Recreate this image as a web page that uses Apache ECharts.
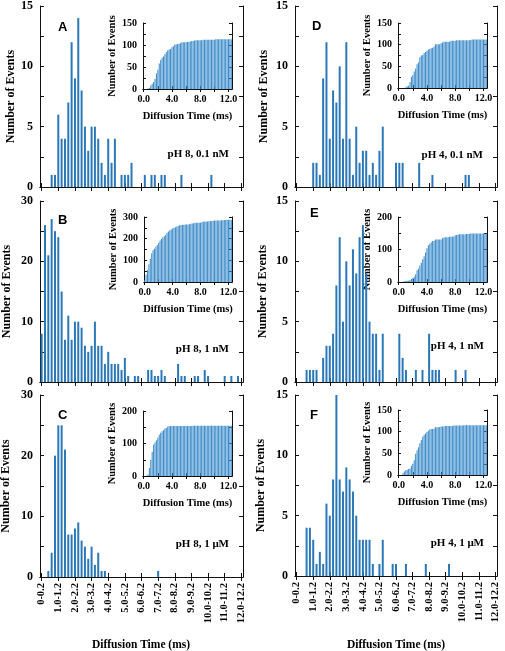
<!DOCTYPE html>
<html><head><meta charset="utf-8">
<script src="https://cdn.jsdelivr.net/npm/echarts@6/dist/echarts.min.js"></script>
<style>html,body{margin:0;padding:0;background:#fff}#c{width:505px;height:651px}</style>
</head><body><div id="c"></div>
<script>
// ---- data ----
const bins = [
 "0-0.2","0.2-0.4","0.4-0.6","0.6-0.8","0.8-1.0",
 "1.0-1.2","1.2-1.4","1.4-1.6","1.6-1.8","1.8-2.0",
 "2.0-2.2","2.2-2.4","2.4-2.6","2.6-2.8","2.8-3.0",
 "3.0-3.2","3.2-3.4","3.4-3.6","3.6-3.8","3.8-4.0",
 "4.0-4.2","4.2-4.4","4.4-4.6","4.6-4.8","4.8-5.0",
 "5.0-5.2","5.2-5.4","5.4-5.6","5.6-5.8","5.8-6.0",
 "6.0-6.2","6.2-6.4","6.4-6.6","6.6-6.8","6.8-7.0",
 "7.0-7.2","7.2-7.4","7.4-7.6","7.6-7.8","7.8-8.0",
 "8.0-8.2","8.2-8.4","8.4-8.6","8.6-8.8","8.8-9.0",
 "9.0-9.2","9.2-9.4","9.4-9.6","9.6-9.8","9.8-10.0",
 "10.0-10.2","10.2-10.4","10.4-10.6","10.6-10.8","10.8-11.0",
 "11.0-11.2","11.2-11.4","11.4-11.6","11.6-11.8","11.8-12.0",
 "12.0-12.2"];
const insetExtraBins = ["12.2-12.4","12.4-12.6"];
const insetTicks = ["0.0","4.0","8.0","12.0"];

const countsA = [0,0,0,1,1,6,4,4,7,12, 9,14,8,5,3,5,5,4,2,1, 4,2,4,0,1,1,1,2,0,0,
                 0,1,0,1,1,0,1,1,0,0, 0,0,1,0,0,0,0,0,0,0, 0,1,0,0,0,0,0,0,0,0, 0];
const countsB = [8,26,21,27,25,24,15,7,11,7, 10,10,9,6,5,6,10,6,6,3, 5,3,3,3,2,4,1,0,1,1,
                 0,0,2,2,1,1,2,1,0,0, 0,3,1,1,0,0,1,1,0,2, 1,0,0,0,0,1,0,1,0,1, 0];
const countsC = [0,0,1,4,20,25,25,21,7,7, 8,9,6,5,3,5,2,4,1,1, 0,0,0,0,0,0,0,0,0,0,
                 0,0,0,0,0,1,0,0,0,0, 0,0,0,0,0,0,0,0,0,0, 0,0,0,0,0,0,0,0,0,0, 0];
const countsD = [0,0,0,0,0,2,2,1,9,12, 4,8,7,10,4,12,4,1,5,2, 3,3,1,2,1,3,5,0,0,0,
                 2,2,2,0,0,0,0,2,0,0, 0,1,0,0,0,0,0,0,0,0, 0,1,1,0,0,0,0,0,0,0, 0];
const countsE = [0,0,0,1,1,1,1,0,2,3, 3,4,8,12,5,10,8,11,9,12, 13,9,5,4,4,1,4,0,0,0,
                 0,4,2,1,0,0,1,0,1,0, 4,1,1,1,0,0,0,0,1,0, 0,1,0,0,0,0,0,0,0,0, 0];
const countsF = [0,0,0,4,4,3,1,2,1,6, 5,8,15,8,7,9,8,7,5,3, 3,3,3,1,0,1,3,0,0,1,
                 1,0,0,1,0,0,0,0,0,1, 0,0,0,0,0,0,1,0,0,0, 0,0,0,0,0,0,0,0,0,0, 0];

const letters = ["A","B","C","D","E","F"];
const conditions = ["pH 8, 0.1 nM","pH 8, 1 nM","pH 8, 1 \u03bcM","pH 4, 0.1 nM","pH 4, 1 nM","pH 4, 1 \u03bcM"];
const yTitle = "Number of Events";
const xTitle = "Diffusion Time (ms)";

// ---- layout ----
const SERIF = '"Liberation Serif","Times New Roman",serif';
const SANS = '"Liberation Sans",Arial,sans-serif';
const BAR = '#2b78b8';
const INSET_BAR = '#3f8dcb';

const panels = [
 {data:countsA, ymax:15, yint:2.5, ylab:5, nameGap:20, grid:{left:40,top:6,width:203,height:181},  inset:{left:143,top:23,width:89,height:66},  imax:150, iint:25, ilab:50, xlabels:false, letter:[58,21], cond:[229,154]},
 {data:countsB, ymax:30, yint:5, ylab:10, nameGap:27, grid:{left:40,top:201,width:203,height:181}, inset:{left:144,top:217,width:88,height:65}, imax:300, iint:50, ilab:100, xlabels:false, letter:[58,214], cond:[229,349]},
 {data:countsC, ymax:30, yint:5, ylab:10, nameGap:28, grid:{left:40,top:395,width:203,height:182}, inset:{left:143,top:411,width:89,height:65}, imax:200, iint:50, ilab:100, xlabels:true, letter:[58,409], cond:[229,544]},
 {data:countsD, ymax:15, yint:2.5, ylab:5, nameGap:25, grid:{left:295,top:6,width:202,height:181}, inset:{left:398,top:23,width:89,height:65}, imax:150, iint:25, ilab:50, xlabels:false, letter:[312,20], cond:[483,155]},
 {data:countsE, ymax:15, yint:2.5, ylab:5, nameGap:26, grid:{left:295,top:201,width:202,height:181}, inset:{left:398,top:217,width:89,height:65}, imax:200, iint:50, ilab:100, xlabels:false, letter:[310,207], cond:[484,346]},
 {data:countsF, ymax:15, yint:2.5, ylab:5, nameGap:28, grid:{left:295,top:395,width:202,height:181}, inset:{left:398,top:410,width:89,height:65}, imax:150, iint:25, ilab:50, xlabels:true, letter:[310,409], cond:[484,543]}
];

function cumulative(arr, n){
  let s = 0; const out = [];
  for (let i = 0; i < n; i++){ s += (arr[i] || 0); out.push(s); }
  return out;
}

const insetBins = bins.concat(insetExtraBins);
const grids = [], xAxes = [], yAxes = [], series = [], graphics = [];
const lineStyle = {color:'#111', width:1};

panels.forEach((p, k) => {
  // main grid
  let gi = grids.length;
  grids.push(Object.assign({containLabel:false, outerBoundsMode:'none'}, p.grid));
  const xb = {type:'category', gridIndex:gi, data:bins, position:'bottom', boundaryGap:true,
    axisLine:{show:true, lineStyle}, axisTick:{show:true, inside:true, interval:4, alignWithLabel:true, length:4, lineStyle},
    axisLabel: p.xlabels ? {show:true, rotate:90, interval:4, fontSize:10.5, fontWeight:'bold', fontFamily:SERIF, color:'#000', margin:6} : {show:false},
    splitLine:{show:false}};
  xAxes.push(xb);
  xAxes.push(Object.assign({}, xb, {position:'top', axisLabel:{show:false}}));
  const yl = {type:'value', gridIndex:gi, min:0, max:p.ymax, interval:p.yint, position:'left',
    axisLine:{show:true, lineStyle}, axisTick:{show:true, inside:true, length:4, lineStyle}, splitLine:{show:false},
    axisLabel:{formatter:(v)=> (Math.abs(v % p.ylab) < 1e-9 ? String(v) : ''), fontSize:12, fontWeight:'bold', fontFamily:SERIF, color:'#000', margin:7},
    name:yTitle, nameLocation:'middle', nameGap:p.nameGap, nameRotate:90,
    nameTextStyle:{fontSize:12, fontWeight:'bold', fontFamily:SERIF, color:'#000'}};
  yAxes.push(yl);
  yAxes.push({type:'value', gridIndex:gi, min:0, max:p.ymax, interval:p.yint, position:'right',
    axisLine:{show:true, lineStyle}, axisTick:{show:true, inside:true, length:4, lineStyle}, splitLine:{show:false}, axisLabel:{show:false}});
  series.push({type:'bar', xAxisIndex:2*gi, yAxisIndex:2*gi, data:p.data, barWidth:2, itemStyle:{color:BAR}, animation:false});

  // inset grid
  gi = grids.length;
  grids.push(Object.assign({containLabel:false, outerBoundsMode:'none'}, p.inset));
  const ixb = {type:'category', gridIndex:gi, data:insetBins, position:'bottom', boundaryGap:true,
    axisLine:{show:true, lineStyle}, axisTick:{show:true, inside:true, interval:9, alignWithLabel:true, length:3, lineStyle},
    axisLabel:{show:true, interval:19, formatter:(v, idx)=> insetTicks[Math.round(idx/20)] || '', fontSize:10, fontWeight:'bold', fontFamily:SERIF, color:'#000', margin:5},
    name:xTitle, nameLocation:'middle', nameGap:22, nameTextStyle:{fontSize:10.5, fontWeight:'bold', fontFamily:SERIF, color:'#000'},
    splitLine:{show:false}};
  xAxes.push(ixb);
  xAxes.push({type:'category', gridIndex:gi, data:insetBins, position:'top', boundaryGap:true,
    axisLine:{show:true, lineStyle}, axisTick:{show:true, inside:true, interval:9, alignWithLabel:true, length:3, lineStyle}, axisLabel:{show:false}});
  yAxes.push({type:'value', gridIndex:gi, min:0, max:p.imax, interval:p.iint, position:'left',
    axisLine:{show:true, lineStyle}, axisTick:{show:true, inside:true, length:3, lineStyle}, splitLine:{show:false},
    axisLabel:{formatter:(v)=> (Math.abs(v % p.ilab) < 1e-9 ? String(v) : ''), fontSize:10, fontWeight:'bold', fontFamily:SERIF, color:'#000', margin:6},
    name:yTitle, nameLocation:'middle', nameGap:25, nameRotate:90,
    nameTextStyle:{fontSize:10.5, fontWeight:'bold', fontFamily:SERIF, color:'#000'}});
  yAxes.push({type:'value', gridIndex:gi, min:0, max:p.imax, interval:p.iint, position:'right',
    axisLine:{show:true, lineStyle}, axisTick:{show:true, inside:true, length:3, lineStyle}, splitLine:{show:false}, axisLabel:{show:false}});
  series.push({type:'bar', xAxisIndex:2*gi, yAxisIndex:2*gi, data:cumulative(p.data, insetBins.length), barCategoryGap:'25%', itemStyle:{color:INSET_BAR}, animation:false});

  graphics.push({type:'text', x:p.letter[0], y:p.letter[1], style:{text:letters[k], font:'bold 13px ' + SANS, fill:'#000'}});
  graphics.push({type:'text', x:p.cond[0], y:p.cond[1], style:{text:conditions[k], font:'bold 11px ' + SERIF, fill:'#000', align:'right', textAlign:'right', verticalAlign:'middle', textVerticalAlign:'middle'}});
});

graphics.push({type:'text', x:141, y:645, style:{text:xTitle, font:'bold 11.5px ' + SERIF, fill:'#000', align:'center', textAlign:'center', verticalAlign:'middle', textVerticalAlign:'middle'}});
graphics.push({type:'text', x:396, y:645, style:{text:xTitle, font:'bold 11.5px ' + SERIF, fill:'#000', align:'center', textAlign:'center', verticalAlign:'middle', textVerticalAlign:'middle'}});

const chart = echarts.init(document.getElementById('c'), null, {renderer:'canvas'});
chart.setOption({
  backgroundColor:'#fff',
  animation:false,
  grid:grids, xAxis:xAxes, yAxis:yAxes, series:series, graphic:graphics
});
</script>
</body></html>
